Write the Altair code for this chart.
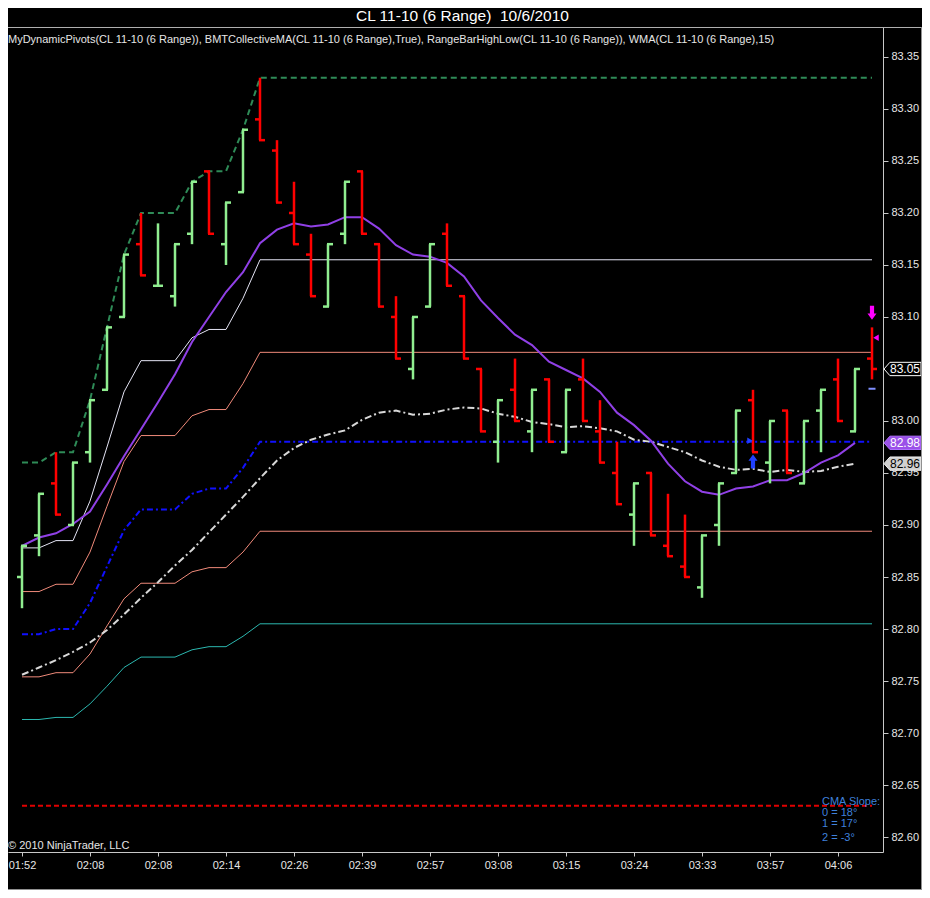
import json
import altair as alt
import pandas as pd

# ---------------- data ----------------
bar_open = [82.85, 82.89, 82.94, 82.90, 82.97, 83.03, 83.10, 83.17, 83.13, 83.12,
            83.18, 83.24, 83.17, 83.22, 83.29, 83.26, 83.20, 83.16, 83.11, 83.18,
            83.24, 83.17, 83.10, 83.05, 83.11, 83.18, 83.12, 83.05, 82.98, 83.03,
            82.99, 83.04, 82.97, 83.04, 82.99, 82.95, 82.91, 82.95, 82.88, 82.86,
            82.84, 82.90, 82.95, 83.02, 82.96, 83.01, 82.94, 83.01, 83.04, 82.99,
            83.06]
bar_high = [82.88, 82.93, 82.97, 82.96, 83.02, 83.09, 83.16, 83.20, 83.19, 83.17,
            83.23, 83.24, 83.21, 83.28, 83.33, 83.27, 83.23, 83.18, 83.17, 83.23,
            83.24, 83.17, 83.12, 83.10, 83.17, 83.19, 83.12, 83.05, 83.02, 83.06,
            83.03, 83.04, 83.03, 83.06, 83.02, 82.98, 82.94, 82.95, 82.93, 82.91,
            82.89, 82.94, 83.01, 83.03, 83.00, 83.01, 83.00, 83.03, 83.06, 83.05,
            83.09]
bar_low = [82.82, 82.87, 82.91, 82.90, 82.96, 83.03, 83.10, 83.14, 83.13, 83.11,
           83.17, 83.18, 83.15, 83.22, 83.27, 83.21, 83.17, 83.12, 83.11, 83.17,
           83.18, 83.11, 83.06, 83.04, 83.11, 83.13, 83.06, 82.99, 82.96, 83.00,
           82.97, 82.98, 82.97, 83.00, 82.96, 82.92, 82.88, 82.89, 82.87, 82.85,
           82.83, 82.88, 82.95, 82.97, 82.94, 82.95, 82.94, 82.97, 83.00, 82.99,
           83.04]
bar_close = [82.88, 82.93, 82.91, 82.96, 83.02, 83.09, 83.16, 83.14, 83.13, 83.17,
             83.23, 83.18, 83.21, 83.28, 83.27, 83.21, 83.17, 83.12, 83.17, 83.23,
             83.18, 83.11, 83.06, 83.10, 83.17, 83.13, 83.06, 82.99, 83.02, 83.00,
             83.03, 82.98, 83.03, 83.00, 82.96, 82.92, 82.94, 82.89, 82.87, 82.85,
             82.89, 82.94, 83.01, 82.97, 83.00, 82.95, 83.00, 83.03, 83.00, 83.05,
             83.05]

# MyDynamicPivots levels (per bar)
piv_high = [82.96, 82.96, 82.97, 82.97, 83.02, 83.09, 83.16, 83.20, 83.20, 83.20,
            83.23, 83.24, 83.24, 83.28] + [83.33] * 37
piv_r2 = [82.878, 82.878, 82.885, 82.885, 82.923, 82.975, 83.028, 83.058, 83.058, 83.058,
          83.080, 83.088, 83.088, 83.118] + [83.155] * 37
piv_r1 = [82.836, 82.836, 82.843, 82.843, 82.874, 82.918, 82.961, 82.986, 82.986, 82.986,
          83.005, 83.011, 83.011, 83.036] + [83.066] * 37
piv_mid = [82.795, 82.795, 82.800, 82.800, 82.825, 82.860, 82.895, 82.915, 82.915, 82.915,
           82.930, 82.935, 82.935, 82.955] + [82.980] * 37
piv_s1 = [82.754, 82.754, 82.758, 82.758, 82.776, 82.803, 82.829, 82.844, 82.844, 82.844,
          82.855, 82.859, 82.859, 82.874] + [82.894] * 37
piv_s2 = [82.713, 82.713, 82.715, 82.715, 82.728, 82.745, 82.763, 82.773, 82.773, 82.773,
          82.780, 82.783, 82.783, 82.793] + [82.805] * 37
piv_low = [82.63] * 51

# WMA(15) and BMTCollectiveMA (completed bars only)
wma15 = [82.880, 82.888, 82.892, 82.901, 82.913, 82.939, 82.966, 82.992, 83.018, 83.045,
         83.076, 83.100, 83.124, 83.143, 83.171, 83.184, 83.190, 83.187, 83.189, 83.196,
         83.196, 83.185, 83.169, 83.160, 83.158, 83.152, 83.139, 83.116, 83.099, 83.083,
         83.073, 83.057, 83.049, 83.041, 83.028, 83.008, 82.996, 82.981, 82.959, 82.942,
         82.932, 82.929, 82.935, 82.937, 82.943, 82.943, 82.950, 82.960, 82.967, 82.979]
cma = [82.756, 82.763, 82.770, 82.778, 82.787, 82.799, 82.814, 82.830, 82.845, 82.861,
       82.876, 82.893, 82.910, 82.927, 82.945, 82.962, 82.974, 82.982, 82.987, 82.991,
       83.001, 83.008, 83.010, 83.006, 83.007, 83.011, 83.013, 83.012, 83.007, 83.004,
       82.999, 82.997, 82.994, 82.995, 82.993, 82.990, 82.982, 82.980, 82.975, 82.970,
       82.962, 82.956, 82.953, 82.954, 82.951, 82.953, 82.951, 82.952, 82.956, 82.959]

time_labels = ["01:52", "02:08", "02:08", "02:14", "02:26", "02:39", "02:57",
               "03:08", "03:15", "03:24", "03:33", "03:57", "04:06"]
time_tick_bars = [0, 4, 8, 12, 16, 20, 24, 28, 32, 36, 40, 44, 48]
price_ticks = [82.60, 82.65, 82.70, 82.75, 82.80, 82.85, 82.90, 82.95,
               83.00, 83.05, 83.10, 83.15, 83.20, 83.25, 83.30, 83.35]

# markers (bar index, price)
sig_down_bar, sig_down_price = [50], [83.104]
sig_up_bar, sig_up_price = [43], [82.961]
sig_right_bar, sig_right_price = [43], [82.981]
proj_tri_bar, proj_tri_price = [50], [83.080]
proj_dash_bar, proj_dash_price = [50], [83.031]

# right-axis value flags
flag_values = [83.05, 82.979, 82.959]
flag_texts = ["83.05", "82.98", "82.96"]

title_text = "CL 11-10 (6 Range)\u00a0 10/6/2010"
legend_text = ("MyDynamicPivots(CL 11-10 (6 Range)), BMTCollectiveMA(CL 11-10 (6 Range),True), "
               "RangeBarHighLow(CL 11-10 (6 Range)), WMA(CL 11-10 (6 Range),15)")
copyright_text = "\u00a9 2010 NinjaTrader, LLC"
slope_lines = ["CMA Slope:", "0 = 18\u00b0", "1 = 17\u00b0", "2 = -3\u00b0"]

# ---------------- tables ----------------
n = len(bar_open)
bars = pd.DataFrame({"i": list(range(n)), "o": bar_open, "h": bar_high,
                     "l": bar_low, "c": bar_close})
levels = pd.DataFrame({"i": list(range(n)), "hi": piv_high, "r2": piv_r2, "r1": piv_r1,
                       "mid": piv_mid, "s1": piv_s1, "s2": piv_s2, "lo": piv_low})
mas = pd.DataFrame({"i": list(range(len(wma15))), "wma": wma15, "cma": cma})

FONT = "Liberation Sans"
AX = "#c8c8c8"
TXT = "#e6e6e6"

xscale = alt.Scale(domain=[-0.8235, 50.647], nice=False, zero=False)
yscale = alt.Scale(domain=[82.5856, 83.3788], nice=False, zero=False)
label_expr = json.dumps(time_labels) + "[round(datum.value / 4)]"
xaxis = alt.Axis(values=time_tick_bars, labelExpr=label_expr, title=None, grid=False,
                 tickSize=4, labelPadding=3, domainColor=AX, tickColor=AX,
                 labelColor=TXT, labelFontSize=11, labelFont=FONT, labelFlush=False)
yaxis = alt.Axis(orient="right", values=price_ticks, format=".2f", title=None, grid=False,
                 tickSize=5, labelPadding=3, domainColor=AX, tickColor=AX,
                 labelColor=TXT, labelFontSize=11, labelFont=FONT)


def X(f="i"):
    return alt.X(f + ":Q", scale=xscale, axis=xaxis)


def Y(f):
    return alt.Y(f + ":Q", scale=yscale, axis=yaxis)


layers = []


def level_line(col, color, width, dash=None):
    kw = dict(color=color, strokeWidth=width)
    if dash:
        kw["strokeDash"] = dash
    return alt.Chart(levels).mark_line(**kw).encode(x=X(), y=Y(col))


# pivot lines
layers.append(level_line("r2", "#e4e4f4", 1))
layers.append(level_line("r1", "#f08a7a", 1))
layers.append(level_line("s1", "#f08a7a", 1))
layers.append(level_line("s2", "#2cb8b0", 1))
layers.append(level_line("mid", "#1010ff", 2, [6, 3, 2, 3]))
layers.append(level_line("hi", "#2e8b57", 2, [6, 4]))
layers.append(level_line("lo", "#e00000", 2, [5, 3]))

# moving averages
layers.append(alt.Chart(mas).mark_line(color="#d8d8d8", strokeWidth=2,
                                        strokeDash=[7, 3, 2, 3]).encode(x=X(), y=Y("cma")))
layers.append(alt.Chart(mas).mark_line(color="#9040e6", strokeWidth=2).encode(x=X(), y=Y("wma")))

# range bars
color = alt.Color("dir:N", scale=alt.Scale(domain=["up", "down"], range=["#90ee90", "#ff0000"]),
                  legend=None)
bbase = alt.Chart(bars).transform_calculate(dir="datum.c >= datum.o ? 'up' : 'down'")
layers.append(bbase.mark_rule(strokeWidth=2.5).encode(x=X(), y=Y("l"), y2="h:Q", color=color))
layers.append(bbase.mark_rule(strokeWidth=2.5, xOffset=-5, x2Offset=1).encode(
    x=X(), x2="i:Q", y=Y("o"), color=color))
layers.append(bbase.mark_rule(strokeWidth=2.5, xOffset=-1, x2Offset=5).encode(
    x=X(), x2="i:Q", y=Y("c"), color=color))

# signal markers
down_arrow = "M-0.3,-1L0.3,-1L0.3,0.1L0.65,0.1L0,1L-0.65,0.1L-0.3,0.1Z"
up_arrow = "M-0.3,1L0.3,1L0.3,-0.1L0.65,-0.1L0,-1L-0.65,-0.1L-0.3,-0.1Z"
layers.append(alt.Chart(pd.DataFrame({"i": sig_down_bar, "p": sig_down_price})).mark_point(
    shape=down_arrow, size=196, filled=True, color="#ff00ff", opacity=1).encode(x=X(), y=Y("p")))
layers.append(alt.Chart(pd.DataFrame({"i": sig_up_bar, "p": sig_up_price})).mark_point(
    shape=up_arrow, size=196, filled=True, color="#2040ff", opacity=1).encode(x=X(), y=Y("p")))
layers.append(alt.Chart(pd.DataFrame({"i": sig_right_bar, "p": sig_right_price})).mark_point(
    shape="triangle-right", size=40, filled=True, color="#2040ff", opacity=1, xOffset=-3).encode(
    x=X(), y=Y("p")))
layers.append(alt.Chart(pd.DataFrame({"i": proj_tri_bar, "p": proj_tri_price})).mark_point(
    shape="triangle-left", size=40, filled=True, color="#ff00ff", opacity=1, xOffset=4).encode(
    x=X(), y=Y("p")))
layers.append(alt.Chart(pd.DataFrame({"i": proj_dash_bar, "p": proj_dash_price})).mark_tick(
    orient="horizontal", size=7, thickness=2, color="#8090ff", opacity=1).encode(x=X(), y=Y("p")))

# right axis flags
flag_shape = "M-1,0L-0.68,-0.36L1,-0.36L1,0.36L-0.68,0.36Z"
flag_styles = [("#000000", "#ffffff", "#ffffff"),
               ("#9b51e8", "#b070ff", "#ffffff"),
               ("#d0d0d0", "#f0f0f0", "#000000")]
for v, t, (fill, stroke, tc) in zip(flag_values, flag_texts, flag_styles):
    fd = pd.DataFrame({"p": [v], "t": [t]})
    layers.append(alt.Chart(fd).mark_point(shape=flag_shape, size=1369, filled=True, fill=fill,
                                           stroke=stroke, strokeWidth=1, opacity=1).encode(
        x=alt.value(894.5), y=Y("p")))
    layers.append(alt.Chart(fd).mark_text(font=FONT, fontSize=12, color=tc, align="center",
                                          baseline="middle").encode(
        x=alt.value(897), y=Y("p"), text="t:N"))

# frame lines
one = pd.DataFrame({"a": [0]})
layers.append(alt.Chart(one).mark_rule(color="#b0b0b0", strokeWidth=1).encode(
    x=alt.value(0), x2=alt.value(914), y=alt.value(0.5)))
layers.append(alt.Chart(one).mark_rule(color="#909090", strokeWidth=1).encode(
    x=alt.value(913.5), y=alt.value(0), y2=alt.value(863)))
layers.append(alt.Chart(one).mark_rule(color="#909090", strokeWidth=1).encode(
    x=alt.value(0), x2=alt.value(914), y=alt.value(862.5)))


def text_layer(t, x, y, size, col, align="left", baseline="middle"):
    return alt.Chart(pd.DataFrame({"t": [t]})).mark_text(
        font=FONT, fontSize=size, color=col, align=align, baseline=baseline).encode(
        x=alt.value(x), y=alt.value(y), text="t:N")


layers.append(text_layer(title_text, 454.5, -6, 15.5, "#ffffff", align="center",
                         baseline="alphabetic"))
layers.append(text_layer(legend_text, 0, 13, 11, TXT))
layers.append(text_layer(copyright_text, 0, 819, 11, TXT))
for s, yy in zip(slope_lines, [774.7, 786.3, 797.3, 810.5]):
    layers.append(text_layer(s, 814, yy, 11, "#3f80dc"))

chart = alt.layer(*layers).properties(
    width=875, height=825,
    autosize=alt.AutoSizeParams(type="none"),
    padding={"left": 0, "top": 19, "right": 39, "bottom": 38},
    background="#000000",
).configure_view(strokeWidth=0)

chart.save("out.html", embed_options={"renderer": "svg", "actions": False})
